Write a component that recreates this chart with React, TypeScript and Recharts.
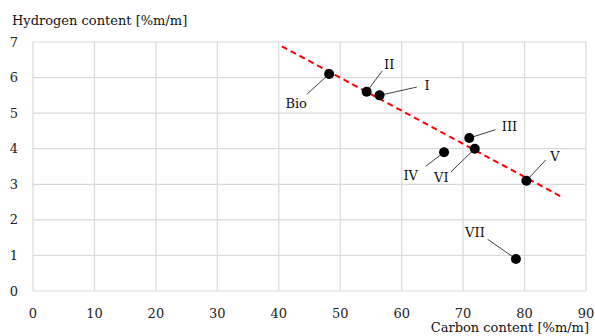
import { ScatterChart, Scatter, XAxis, YAxis, CartesianGrid } from "recharts";

// sample names and their carbon / hydrogen content [%m/m]
const samples = ["Bio", "II", "I", "III", "VI", "IV", "V", "VII"];
const carbon = [48.2, 54.3, 56.4, 71.0, 71.9, 66.9, 80.3, 78.6];
const hydrogen = [6.1, 5.6, 5.5, 4.3, 4.0, 3.9, 3.1, 0.9];

// fitted trend line end points
const trendX = [40.5, 86];
const trendY = [6.88, 2.65];

const xTicks = [0, 10, 20, 30, 40, 50, 60, 70, 80, 90];
const yTicks = [0, 1, 2, 3, 4, 5, 6, 7];

const points = samples.map((name, i) => ({ name, x: carbon[i], y: hydrogen[i] }));
const trend = trendX.map((x, i) => ({ x, y: trendY[i] }));

// leader line end and label centre, relative to the marker (px)
const callouts: Record<string, { lx: number; ly: number; tx: number; ty: number }> = {
  Bio: { lx: -22, ly: 20, tx: -33, ty: 29 },
  II: { lx: 15.7, ly: -21, tx: 22.5, ty: -27.7 },
  I: { lx: 37.4, ly: -8.3, tx: 47.4, ty: -10 },
  III: { lx: 26.3, ly: -8.4, tx: 40.3, ty: -11.7 },
  VI: { lx: -24, ly: 23.4, tx: -33.5, ty: 28.4 },
  IV: { lx: -18.3, ly: 14, tx: -33.3, ty: 23 },
  V: { lx: 19.3, ly: -20.7, tx: 28.6, ty: -24.7 },
  VII: { lx: -28.3, ly: -19.7, tx: -41, ty: -26 },
};

const FONT = "'DejaVu Serif', serif";

function Marker(props: any) {
  const { cx, cy, payload } = props;
  const c = callouts[payload.name];
  return (
    <g>
      <line x1={cx} y1={cy} x2={cx + c.lx} y2={cy + c.ly} stroke="#404040" strokeWidth={1} />
      <circle cx={cx} cy={cy} r={5} fill="#000" />
      <text
        x={cx + c.tx}
        y={cy + c.ty}
        textAnchor="middle"
        dominantBaseline="central"
        fontFamily={FONT}
        fontSize={13}
        fill="#111"
      >
        {payload.name}
      </text>
    </g>
  );
}

export default function App() {
  return (
    <div style={{ position: "absolute", left: 0, top: 0, width: 595, height: 336, background: "#fff" }}>
      <ScatterChart width={595} height={336} margin={{ top: 42, right: 9, bottom: 0, left: 0 }}>
        <CartesianGrid stroke="#d9d9d9" strokeWidth={1.2} />
        <XAxis
          type="number"
          dataKey="x"
          domain={[0, 90]}
          ticks={xTicks}
          axisLine={false}
          tickLine={false}
          height={45}
          tickMargin={12}
          tick={{ fontFamily: FONT, fontSize: 13, fill: "#222" }}
        />
        <YAxis
          type="number"
          dataKey="y"
          domain={[0, 7]}
          ticks={yTicks}
          axisLine={false}
          tickLine={false}
          width={33}
          tickMargin={9}
          tick={{ fontFamily: FONT, fontSize: 13, fill: "#222" }}
        />
        <Scatter
          data={trend}
          line={{ stroke: "#ff0000", strokeWidth: 2, strokeDasharray: "6 4" }}
          shape={() => <g />}
          isAnimationActive={false}
        />
        <Scatter data={points} shape={Marker} isAnimationActive={false} />
        <text x={12} y={25} fontFamily={FONT} fontSize={13} fill="#111">
          Hydrogen content [%m/m]
        </text>
        <text x={589} y={332} textAnchor="end" fontFamily={FONT} fontSize={13} fill="#111">
          Carbon content [%m/m]
        </text>
      </ScatterChart>
    </div>
  );
}
